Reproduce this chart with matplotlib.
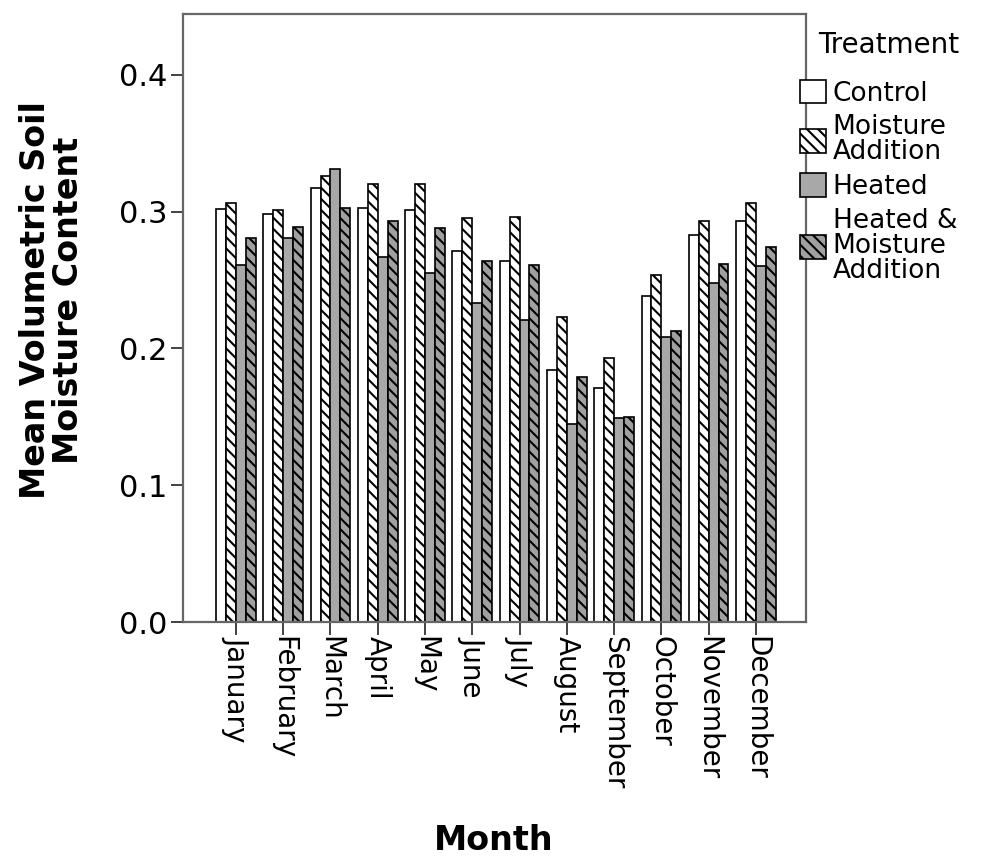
import numpy as np
import matplotlib
matplotlib.use("Agg")
import matplotlib.pyplot as plt

months = ["January", "February", "March", "April", "May", "June", "July",
          "August", "September", "October", "November", "December"]
treatments = ["Control", "Moisture\nAddition", "Heated", "Heated &\nMoisture\nAddition"]

# mean volumetric soil moisture per month and treatment
control = [0.302, 0.298, 0.317, 0.303, 0.301, 0.271, 0.264, 0.184, 0.171, 0.238, 0.283, 0.293]
moisture_add = [0.306, 0.301, 0.326, 0.320, 0.320, 0.295, 0.296, 0.223, 0.193, 0.254, 0.293, 0.306]
heated = [0.261, 0.281, 0.331, 0.267, 0.255, 0.233, 0.221, 0.145, 0.149, 0.208, 0.248, 0.260]
heated_moist = [0.281, 0.289, 0.303, 0.293, 0.288, 0.264, 0.261, 0.179, 0.150, 0.213, 0.262, 0.274]

plt.rcParams["font.family"] = "DejaVu Sans"
plt.rcParams["hatch.linewidth"] = 1.5

fig = plt.figure(figsize=(9.92, 8.57), dpi=100)
ax = fig.add_axes([0.1845, 0.2742, 0.628, 0.7095])

x = np.arange(len(months))
w = 0.21
series = [control, moisture_add, heated, heated_moist]
styles = [
    dict(color="white", hatch=None),
    dict(color="white", hatch="\\\\\\"),
    dict(color="#a8a8a8", hatch=None),
    dict(color="#a0a0a0", hatch="\\\\\\"),
]
handles = []
for i, (vals, st) in enumerate(zip(series, styles)):
    b = ax.bar(x + (i - 1.5) * w, vals, width=w, color=st["color"],
               hatch=st["hatch"], edgecolor="black", linewidth=1.2)
    handles.append(b)

ax.set_xlim(-1.12, 11 + 1.06)
ax.set_ylim(0, 0.4445)
ax.set_yticks([0.0, 0.1, 0.2, 0.3, 0.4])
ax.set_yticklabels(["0.0", "0.1", "0.2", "0.3", "0.4"], fontsize=22)
ax.set_xticks(x)
ax.set_xticklabels(months, rotation=-90, fontsize=20, va="top")
ax.tick_params(axis="both", direction="out", length=9, width=1.3, color="#333333")
ax.tick_params(axis="y", pad=2)
ax.tick_params(axis="x", pad=1)
for sp in ax.spines.values():
    sp.set_color("#666666")
    sp.set_linewidth(1.6)

# axis titles
fig.text(0.052, 0.65, "Mean Volumetric Soil\nMoisture Content", fontsize=24,
         fontweight="bold", rotation=90, ha="center", va="center",
         linespacing=1.0, multialignment="center")
fig.text(0.498, 0.0, "Month", fontsize=24, fontweight="bold", ha="center", va="bottom")

# legend sits outside the plot on the right
fig.text(0.825, 0.948, "Treatment", fontsize=20, ha="left", va="center")
leg = fig.legend(handles, treatments, loc="upper left",
                 bbox_to_anchor=(0.806, 0.907), frameon=False, fontsize=19,
                 handlelength=1.0, handleheight=1.0, handletextpad=0.25,
                 labelspacing=0.3, borderaxespad=0, borderpad=0)
for t in leg.get_texts():
    t.set_linespacing(0.95)

fig.savefig("out.png", dpi=100)
